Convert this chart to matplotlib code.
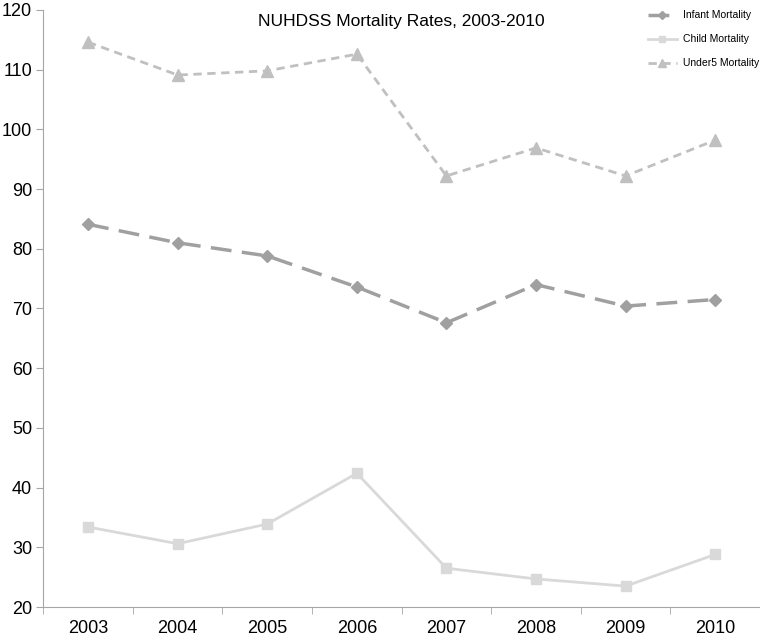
import matplotlib.pyplot as plt
import numpy as np

plt.rcParams['font.family'] = ['Liberation Sans', 'DejaVu Sans']

# data
years = ["2003", "2004", "2005", "2006", "2007", "2008", "2009", "2010"]
infant = [84.1, 81.0, 78.8, 73.6, 67.6, 74.0, 70.4, 71.5]
child = [33.4, 30.6, 33.9, 42.4, 26.5, 24.7, 23.5, 28.8]
under5 = [114.6, 109.1, 109.8, 112.6, 92.2, 96.9, 92.2, 98.2]

x = np.arange(len(years))

fig = plt.figure(figsize=(7.6, 6.42), dpi=100)
ax = fig.add_axes([0.057, 0.0545, 0.943, 0.93])

ax.plot(x, infant, color='#a0a0a0', lw=2.5, dashes=(6, 3), marker='D',
        markersize=6, label='Infant Mortality')
ax.plot(x, child, color='#d9d9d9', lw=2, marker='s', markersize=7,
        label='Child Mortality')
ax.plot(x, under5, color='#c0c0c0', lw=2, dashes=(3, 2), marker='^',
        markersize=8, label='Under5 Mortality')

ax.set_xlim(-0.5, len(years) - 0.5)
ax.set_ylim(20, 120)
ax.set_yticks(range(20, 121, 10))
ax.set_xticks(x)
ax.set_xticklabels(years)
ax.set_xticks(np.arange(-0.5, len(years)), minor=True)

for s in ['top', 'right']:
    ax.spines[s].set_visible(False)
for s in ['left', 'bottom']:
    ax.spines[s].set_color('#a6a6a6')

ax.tick_params(axis='y', length=5, color='#a6a6a6', labelsize=13, pad=3)
ax.tick_params(axis='x', which='major', length=0, labelsize=13, pad=9)
ax.tick_params(axis='x', which='minor', length=5, color='#a6a6a6', direction='out')

ax.set_title('NUHDSS Mortality Rates, 2003-2010', fontsize=12.5, y=0.96)

ax.legend(loc='upper right', bbox_to_anchor=(1.012, 1.015), frameon=False,
          fontsize=7.5, handlelength=2.8, handletextpad=0.6,
          labelspacing=1.35, markerscale=0.7)

fig.savefig('out.png', dpi=100)
